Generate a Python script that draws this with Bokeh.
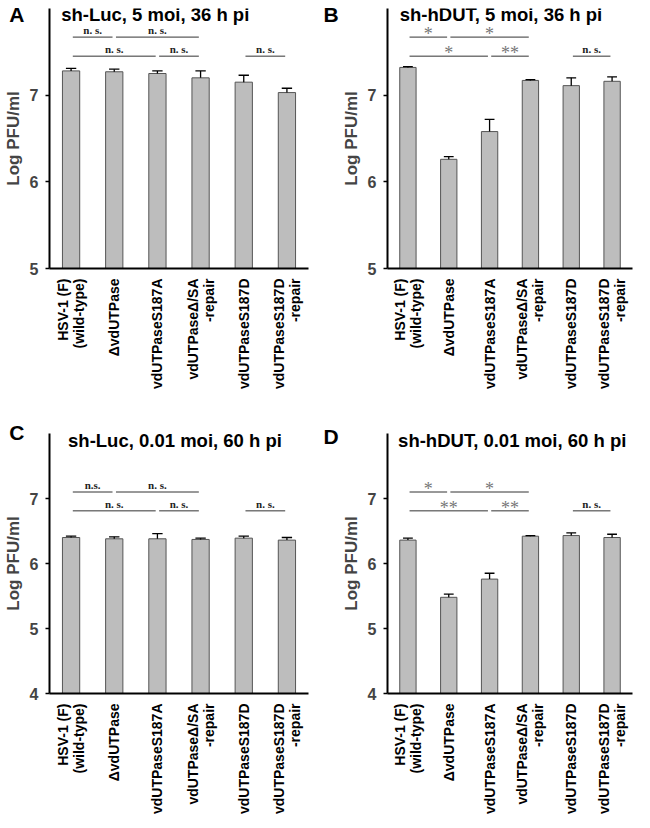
import math
from bokeh.plotting import figure
from bokeh.models import FactorRange, Range1d, FixedTicker, Label, ColumnDataSource
from bokeh.layouts import gridplot
from bokeh.embed import file_html
from bokeh.resources import INLINE

strains = ["HSV-1 (F)\n(wild-type)", "ΔvdUTPase", "vdUTPaseS187A",
           "vdUTPaseΔ/SA\n-repair", "vdUTPaseS187D", "vdUTPaseS187D\n-repair"]

a_mean = [7.28, 7.27, 7.25, 7.20, 7.15, 7.03]
a_err = [0.03, 0.03, 0.03, 0.08, 0.08, 0.05]
b_mean = [7.32, 6.26, 6.58, 7.17, 7.11, 7.16]
b_err = [0.01, 0.03, 0.14, 0.01, 0.09, 0.05]
c_mean = [6.40, 6.38, 6.38, 6.37, 6.39, 6.36]
c_err = [0.02, 0.03, 0.08, 0.02, 0.03, 0.04]
d_mean = [6.36, 5.48, 5.76, 6.42, 6.43, 6.40]
d_err = [0.03, 0.05, 0.09, 0.01, 0.04, 0.05]

# comparisons: (first bar, second bar, row, label)
a_sig = [(0, 1, 0, "n. s."), (1, 3, 0, "n. s."), (0, 2, 1, "n. s."), (2, 3, 1, "n. s."), (4, 5, 1, "n. s.")]
b_sig = [(0, 1, 0, "*"), (1, 3, 0, "*"), (0, 2, 1, "*"), (2, 3, 1, "**"), (4, 5, 1, "n. s.")]
c_sig = [(0, 1, 0, "n.s."), (1, 3, 0, "n. s."), (0, 2, 1, "n. s."), (2, 3, 1, "n. s."), (4, 5, 1, "n. s.")]
d_sig = [(0, 1, 0, "*"), (1, 3, 0, "*"), (0, 2, 1, "**"), (2, 3, 1, "**"), (4, 5, 1, "n. s.")]

top_rows = [7.67, 7.45]
bottom_rows = [7.10, 6.81]

FONT = "Liberation Sans"


def panel(letter, letter_side, letter_x, letter_y, title, mean, err, sig, rows, y0, ticks,
          width, height, bl, br, bt, bb, title_x, title_y):
    p = figure(x_range=FactorRange(*strains, range_padding=0, factor_padding=0),
               y_range=Range1d(y0, 8), width=width, height=height,
               output_backend="svg", toolbar_location=None,
               min_border_left=bl, min_border_right=br, min_border_top=bt,
               min_border_bottom=bb)
    p.outline_line_color = None
    p.grid.visible = False
    p.background_fill_color = "white"
    p.border_fill_color = "white"

    src = ColumnDataSource(dict(x=strains, top=mean, up=[m + e for m, e in zip(mean, err)],
                                cl=[i + 0.5 - 0.12 for i in range(len(strains))],
                                cr=[i + 0.5 + 0.12 for i in range(len(strains))]))
    p.vbar(x="x", top="top", bottom=y0, width=0.4, source=src,
           fill_color="#bdbdbd", line_color="#555555", line_width=1)
    p.segment(x0="x", x1="x", y0="top", y1="up", source=src, line_color="black", line_width=1.3)
    p.segment(x0="cl", x1="cr", y0="up", y1="up", source=src, line_color="black", line_width=1.3)

    s = dict(x0=[], x1=[], y=[], xm=[], t=[], col=[], sty=[], sz=[], off=[])
    for i, j, r, t in sig:
        s["x0"].append(i + 0.5 + 0.04)
        s["x1"].append(j + 0.5 - 0.04)
        s["y"].append(rows[r])
        s["xm"].append((i + j + 1) / 2)
        s["t"].append(t)
        star = t.startswith("*")
        s["col"].append("#777777" if star else "#222222")
        s["sty"].append("normal" if star else "bold")
        s["sz"].append("18px" if star else "11px")
        s["off"].append(7 if star else -1)
    ss = ColumnDataSource(s)
    p.segment(x0="x0", x1="x1", y0="y", y1="y", source=ss, line_color="#333333", line_width=1)
    p.text(x="xm", y="y", text="t", source=ss, text_align="center", text_baseline="bottom",
           y_offset="off", text_color="col", text_font_style="sty", text_font_size="sz",
           text_font=FONT)

    p.add_layout(Label(x=title_x, y=title_y, text=title, text_font=FONT, text_font_style="bold",
                       text_font_size="18.5px", text_color="black", text_baseline="alphabetic"))

    ya = p.yaxis[0]
    ya.ticker = FixedTicker(ticks=ticks)
    ya.axis_label = "Log PFU/ml"
    ya.axis_label_text_font = FONT
    ya.axis_label_text_font_style = "bold"
    ya.axis_label_text_font_size = "17px"
    ya.axis_label_standoff = 4
    ya.major_label_text_font = FONT
    ya.major_label_text_font_style = "bold"
    ya.major_label_text_font_size = "16px"
    ya.major_label_standoff = 7
    ya.axis_line_width = 2
    ya.major_tick_line_width = 1.5
    ya.major_tick_in = 0
    ya.major_tick_out = 4
    ya.minor_tick_line_color = None

    xa = p.xaxis[0]
    xa.axis_line_width = 2
    xa.major_tick_line_color = None
    xa.minor_tick_line_color = None
    xa.major_label_orientation = math.pi / 2
    xa.major_label_standoff = 4
    xa.major_label_text_font = FONT
    xa.major_label_text_font_style = "bold"
    xa.major_label_text_font_size = "14px"
    xa.major_label_text_color = "black"
    xa.major_label_text_line_height = 1.0

    # panel letter, kept in a side panel so it is not clipped to the frame
    units = "screen" if letter_side == "left" else "data"
    p.add_layout(Label(x=letter_x, y=letter_y, x_units=units, text=letter, text_font=FONT,
                       text_font_style="bold", text_font_size="21px", text_color="black",
                       text_baseline="alphabetic"), letter_side)
    return p


pa = panel("A", "right", -0.93, 7.93, "sh-Luc, 5 moi, 36 h pi", a_mean, a_err, a_sig,
           top_rows, 5, [5, 6, 7], 323, 406, 41, 15, 8, 138, 0.27, 7.93)
pb = panel("B", "left", 0, 7.93, "sh-hDUT, 5 moi, 36 h pi", b_mean, b_err, b_sig,
           top_rows, 5, [5, 6, 7], 311, 406, 0, 2, 8, 138, 0.30, 7.93)
pc = panel("C", "right", -0.93, 8.02, "sh-Luc, 0.01 moi, 60 h pi", c_mean, c_err, c_sig,
           bottom_rows, 4, [4, 5, 6, 7], 323, 414, 41, 15, 27, 127, 0.43, 7.90)
pd = panel("D", "left", 0, 7.96, "sh-hDUT, 0.01 moi, 60 h pi", d_mean, d_err, d_sig,
           bottom_rows, 4, [4, 5, 6, 7], 311, 414, 0, 2, 27, 127, 0.26, 7.90)

grid = gridplot([[pa, pb], [pc, pd]], toolbar_location=None)
open("out.html", "w").write(file_html(grid, INLINE))
